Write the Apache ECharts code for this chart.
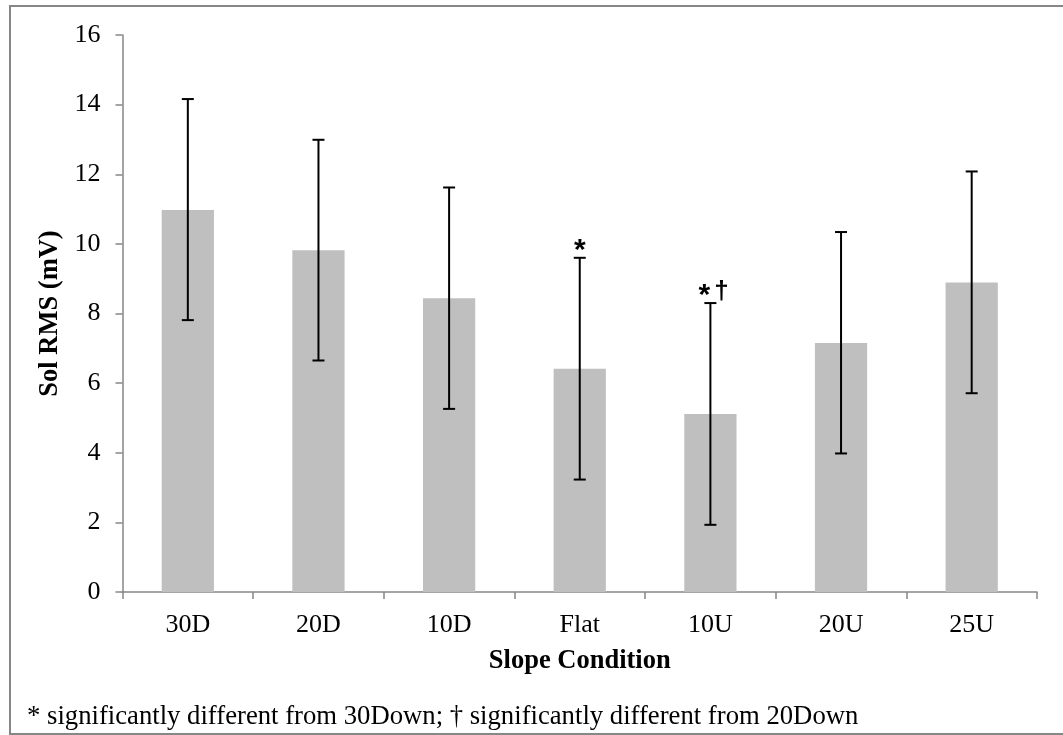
<!DOCTYPE html>
<html>
<head>
<meta charset="utf-8">
<script src="https://cdn.jsdelivr.net/npm/echarts@6/dist/echarts.min.js"></script>
<style>
  html, body { margin: 0; padding: 0; background: #fff; }
  #myChart { width: 1063px; height: 735px; }
</style>
</head>
<body>
<div id="myChart"></div>
<script>
const categories = ["30D", "20D", "10D", "Flat", "10U", "20U", "25U"];
const means = [10.97, 9.82, 8.44, 6.41, 5.11, 7.15, 8.89];
const errTop = [14.16, 12.99, 11.62, 9.60, 8.30, 10.34, 12.08];
const errBottom = [7.81, 6.65, 5.26, 3.23, 1.93, 3.98, 5.71];
const stars = [false, false, false, true, true, false, false];
const daggers = [false, false, false, false, true, false, false];
const yTicks = [0, 2, 4, 6, 8, 10, 12, 14, 16];

const serif = "'Liberation Serif', 'Times New Roman', serif";
const axisGray = "#868686";

let errData = categories.map((c, i) => [i, errBottom[i], errTop[i]]);

const option = {
  animation: false,
  grid: { left: 122.5, right: 26, top: 35, bottom: 143 },
  xAxis: {
    type: "category",
    data: categories,
    axisLine: { lineStyle: { color: axisGray, width: 1.5 } },
    axisTick: { show: true, length: 7, lineStyle: { color: axisGray, width: 1.5 } },
    axisLabel: { color: "#000", fontFamily: serif, fontSize: 26, margin: 20 },
    name: "Slope Condition",
    nameLocation: "middle",
    nameGap: 56,
    nameTextStyle: { color: "#000", fontFamily: serif, fontSize: 26.5, fontWeight: "bold" }
  },
  yAxis: {
    type: "value",
    min: yTicks[0],
    max: yTicks[yTicks.length - 1],
    interval: 2,
    splitLine: { show: false },
    axisLine: { show: true, lineStyle: { color: axisGray, width: 1.5 } },
    axisTick: { show: true, length: 7, lineStyle: { color: axisGray, width: 1.5 } },
    axisLabel: { color: "#000", fontFamily: serif, fontSize: 26, margin: 22 },
    name: "Sol RMS (mV)",
    nameLocation: "middle",
    nameRotate: 90,
    nameGap: 57,
    nameTextStyle: { color: "#000", fontFamily: serif, fontSize: 26.5, fontWeight: "bold" }
  },
  series: [
    {
      type: "bar",
      data: means,
      barWidth: "40%",
      itemStyle: { color: "#bfbfbf" }
    },
    {
      type: "custom",
      data: errData,
      z: 5,
      renderItem: function (params, api) {
        let i = params.dataIndex;
        let x = api.coord([api.value(0), api.value(1)])[0];
        let yLow = api.coord([api.value(0), api.value(1)])[1];
        let yHigh = api.coord([api.value(0), api.value(2)])[1];
        let half = 6;
        let style = { stroke: "#000", lineWidth: 2 };
        let children = [
          { type: "line", shape: { x1: x, y1: yHigh, x2: x, y2: yLow }, style: style },
          { type: "line", shape: { x1: x - half, y1: yHigh, x2: x + half, y2: yHigh }, style: style },
          { type: "line", shape: { x1: x - half, y1: yLow, x2: x + half, y2: yLow }, style: style }
        ];
        let sx = daggers[i] ? x - 6 : x;
        if (stars[i]) {
          children.push({
            type: "text",
            style: {
              text: "*", x: sx, y: yHigh - 7,
              align: "center", verticalAlign: "middle", fill: "#000",
              font: "bold 30px 'Liberation Sans', Arial, sans-serif"
            }
          });
        }
        if (daggers[i]) {
          children.push({
            type: "text",
            style: {
              text: "\u2020", x: x + 11, y: yHigh - 11,
              align: "center", verticalAlign: "middle", fill: "#000",
              font: "bold 26px 'Liberation Sans', Arial, sans-serif"
            }
          });
        }
        return { type: "group", children: children };
      }
    }
  ],
  graphic: [
    {
      type: "rect",
      shape: { x: 10, y: 6, width: 1060, height: 728 },
      style: { fill: "none", stroke: "#878787", lineWidth: 2 },
      silent: true
    },
    {
      type: "text",
      style: {
        text: "* significantly different from 30Down; \u2020 significantly different from 20Down",
        x: 27,
        y: 717,
        verticalAlign: "middle",
        fill: "#000",
        font: "26.7px 'Liberation Serif', 'Times New Roman', serif"
      }
    }
  ]
};

let ECharts = echarts.init(document.getElementById("myChart"));
ECharts.setOption(option);
</script>
</body>
</html>
